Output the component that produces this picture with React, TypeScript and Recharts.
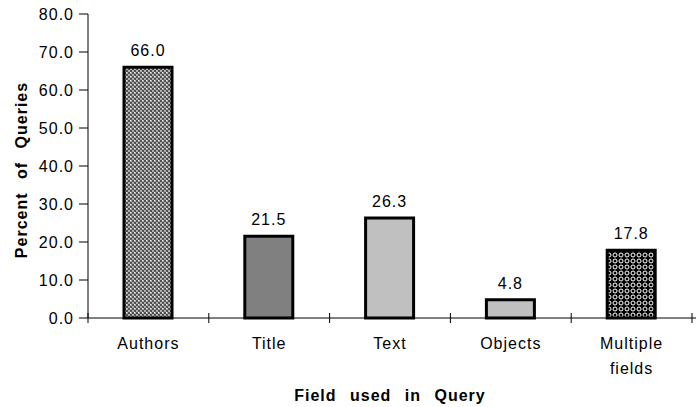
import { BarChart, Bar, XAxis, YAxis, Cell, LabelList } from 'recharts';

const categories = ['Authors', 'Title', 'Text', 'Objects', 'Multiple fields'];
const percents = [66.0, 21.5, 26.3, 4.8, 17.8];
const fills = ['url(#checker)', '#808080', '#c0c0c0', '#c0c0c0', 'url(#stars)'];
const yTicks = [0, 10, 20, 30, 40, 50, 60, 70, 80];

const data = categories.map((name, i) => ({ name, value: percents[i] }));

const FONT = '"Liberation Sans", Arial, sans-serif';

function CategoryTick(props: any) {
  const { x, y, payload, index } = props;
  const half = payload && payload.offset ? payload.offset : 60.4;
  const lines = String(payload.value).split(' ');
  return (
    <g>
      <line x1={x - half} x2={x - half} y1={y - 5} y2={y + 5} stroke="#000" />
      {index === categories.length - 1 && (
        <>
          <line x1={x + half} x2={x + half} y1={y - 5} y2={y + 5} stroke="#000" />
          <line x1={x + half} x2={x + half + 4} y1={y} y2={y} stroke="#000" />
        </>
      )}
      <text
        x={x}
        y={y + 31}
        textAnchor="middle"
        fontFamily={FONT}
        fontSize={16}
        fill="#000"
        style={{ letterSpacing: '1px' }}
      >
        {lines.map((l, i) => (
          <tspan key={i} x={x} dy={i === 0 ? 0 : 25}>{l}</tspan>
        ))}
      </text>
    </g>
  );
}

export default function App() {
  return (
    <div style={{ position: 'absolute', left: 0, top: 0, background: '#fff' }}>
      <BarChart
        width={696}
        height={407}
        data={data}
        margin={{ top: 14, right: 4, left: 0, bottom: 0 }}
        barSize={48}
      >
        <defs>
          <pattern id="checker" width="4" height="4" patternUnits="userSpaceOnUse">
            <rect width="4" height="4" fill="#b0b0b0" />
            <rect x="0" y="0" width="2" height="2" fill="#505050" />
            <rect x="2" y="2" width="2" height="2" fill="#505050" />
            <rect x="2" y="0" width="1" height="1" fill="#f0f0f0" />
          </pattern>
          <pattern id="stars" width="6" height="6" patternUnits="userSpaceOnUse">
            <rect width="6" height="6" fill="#000" />
            <circle cx="3" cy="3" r="2" fill="none" stroke="#fff" strokeWidth="1" />
          </pattern>
        </defs>
        <XAxis
          dataKey="name"
          axisLine={{ stroke: '#000' }}
          tickLine={false}
          tickSize={0}
          tickMargin={0}
          height={89}
          interval={0}
          tick={<CategoryTick />}
          label={{
            content: ({ viewBox }: any) => (
              <text
                x={viewBox.x + viewBox.width / 2}
                y={401}
                textAnchor="middle"
                fontFamily={FONT}
                fontSize={16}
                fontWeight="bold"
                fill="#000"
                style={{ letterSpacing: '1px', wordSpacing: '8px' }}
              >
                Field used in Query
              </text>
            ),
          }}
        />
        <YAxis
          domain={[0, 80]}
          ticks={yTicks}
          width={88}
          axisLine={{ stroke: '#000' }}
          tickLine={{ stroke: '#000' }}
          tickSize={9}
          tickMargin={5}
          tickFormatter={(v: number) => v.toFixed(1)}
          tick={{ fontFamily: FONT, fontSize: 16, fill: '#000', style: { letterSpacing: '1px' } }}
          label={{
            content: ({ viewBox }: any) => {
              const cy = viewBox.y + viewBox.height / 2 + 4;
              return (
                <text
                  x={27}
                  y={cy}
                  transform={`rotate(-90 27 ${cy})`}
                  textAnchor="middle"
                  fontFamily={FONT}
                  fontSize={16}
                  fontWeight="bold"
                  fill="#000"
                  style={{ letterSpacing: '1px', wordSpacing: '8px' }}
                >
                  Percent of Queries
                </text>
              );
            },
          }}
        />
        <Bar dataKey="value" stroke="#000" strokeWidth={3} isAnimationActive={false}>
          {data.map((d, i) => (
            <Cell key={d.name} fill={fills[i]} />
          ))}
          <LabelList
            dataKey="value"
            position="top"
            offset={11}
            formatter={(v: any) => Number(v).toFixed(1)}
            style={{ fontFamily: FONT, fontSize: 16, fill: '#000', letterSpacing: '1px' }}
          />
        </Bar>
      </BarChart>
    </div>
  );
}
